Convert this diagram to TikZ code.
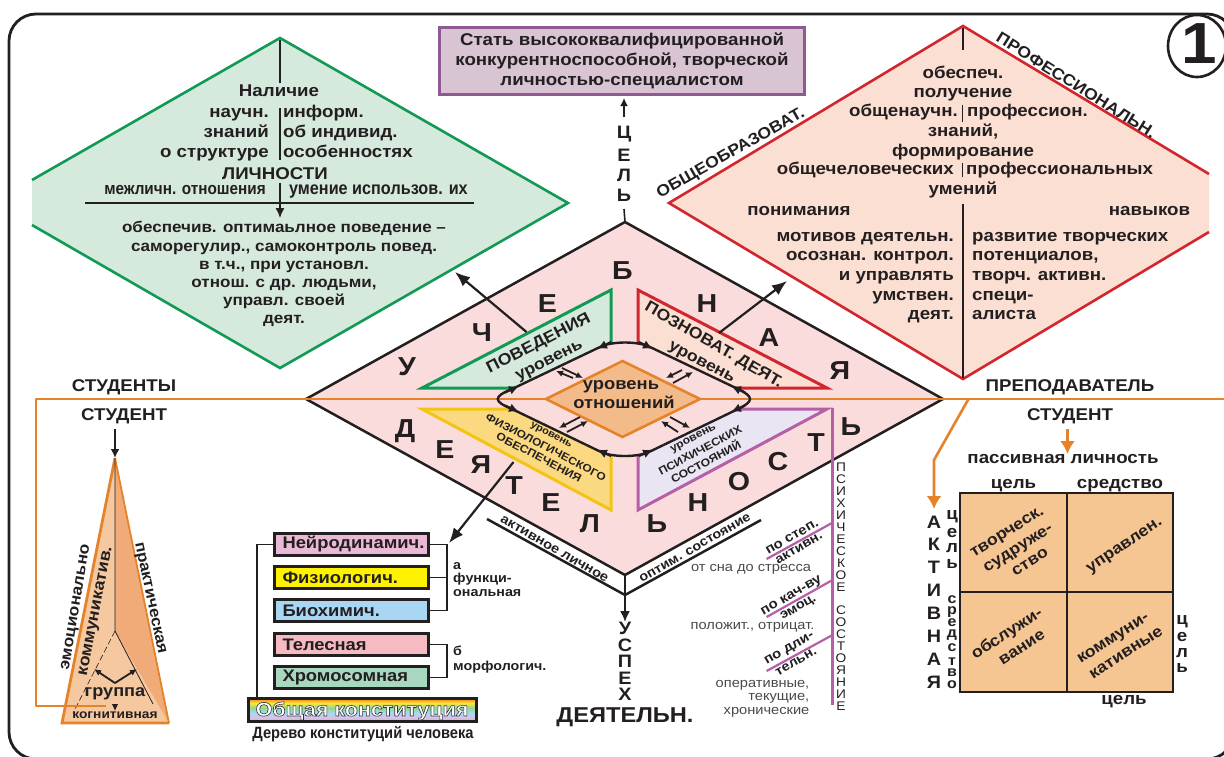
\documentclass[tikz,border=0pt]{standalone}
\usepackage{fontspec}
\setmainfont{Liberation Sans}
\newfontfamily\nrw[FakeStretch=0.90]{Liberation Sans}
\newfontfamily\wid[FakeStretch=1.10]{Liberation Sans}
\usetikzlibrary{arrows.meta,shapes.geometric}
\definecolor{ink}{HTML}{231F20}
\definecolor{gry}{HTML}{4A4A4A}
\definecolor{gfill}{HTML}{D6E9DD}
\definecolor{gline}{HTML}{119A56}
\definecolor{rfill}{HTML}{FBDFD2}
\definecolor{rline}{HTML}{D2262E}
\definecolor{pfill}{HTML}{FBDCDC}
\definecolor{bfill}{HTML}{D9C4D4}
\definecolor{bline}{HTML}{8E5A92}
\definecolor{org}{HTML}{E5832B}
\definecolor{ofill}{HTML}{F3BB8A}
\definecolor{sq}{HTML}{F5C592}
\definecolor{tdark}{HTML}{F0AB78}
\definecolor{tlite}{HTML}{F5C8A0}
\definecolor{yfill}{HTML}{FBD980}
\definecolor{yline}{HTML}{F4C414}
\definecolor{vfill}{HTML}{E9E5F2}
\definecolor{vline}{HTML}{B45FA6}
\definecolor{b1}{HTML}{EAB9D6}
\definecolor{b3}{HTML}{A9D6F2}
\definecolor{b4}{HTML}{F5BAC2}
\definecolor{b5}{HTML}{A9D8C0}
\definecolor{rb1}{HTML}{F0A0C0}
\definecolor{rb2}{HTML}{D8C0E6}
\definecolor{rb3}{HTML}{A6DAF2}
\definecolor{rb4}{HTML}{90D890}
\definecolor{rb5}{HTML}{FAE634}
\definecolor{rb6}{HTML}{F28026}
\tikzset{
 bt/.style={inner sep=0pt,text=ink,font=\fontsize{#1}{#1}\selectfont\wid\bfseries,/utils/exec={\def\curS{#1}}},
 bn/.style={inner sep=0pt,text=ink,font=\fontsize{#1}{#1}\selectfont\nrw\bfseries,/utils/exec={\def\curS{#1}}},
 rg/.style={inner sep=0pt,text=gry,font=\fontsize{#1}{#1}\selectfont\wid,/utils/exec={\def\curS{#1}}},
 mc/.style={anchor=base,yshift={-0.27*\curS*1pt}},
 mcc/.style={anchor=base,yshift={-0.36*\curS*1pt}},
 mce/.style={anchor=base east,yshift={-0.27*\curS*1pt}},
 mcw/.style={anchor=base west,yshift={-0.27*\curS*1pt}},
 big/.style={bt=26},
 edge/.style={draw=ink,line width=2.5pt},
 thin line/.style={draw=ink,line width=1.4pt},
 arw/.style={draw=ink,line width=2.2pt,-{Latex[length=15pt,width=12pt]}},
 oarw/.style={draw=org,line width=2.6pt,-{Latex[length=13pt,width=15pt]}},
 small arw/.style={draw=ink,line width=1.8pt,-{Latex[length=7pt,width=6.5pt]}},
 ctip/.style={draw=ink,line width=2.2pt,-{Latex[length=10pt,width=9pt]}},
 boxn/.style={draw=ink,line width=3pt,minimum width=154pt,minimum height=22pt,inner ysep=0pt,inner xsep=8pt,text width=138pt,align=left,text=ink,font=\fontsize{16.7}{16.7}\selectfont\wid\bfseries},
 conn/.style={draw=ink,line width=1.1pt},
}
\begin{document}
\begin{tikzpicture}[x=1pt,y=-1pt]
\useasboundingbox (0,0) rectangle (1224,756);
\clip (0,0) rectangle (1224,756);
\fill[white] (0,0) rectangle (1224,756);
% frame
\draw[draw=ink,line width=2.8pt,rounded corners=27pt] (9,759) -- (9,14) -- (1234,14) -- (1234,759) -- cycle;
% green diamond
\filldraw[fill=gfill,draw=none] (32,180) -- (280,38) -- (568,203) -- (280,368) -- (32,225) -- cycle;
\draw[draw=gline,line width=2.6pt,line join=miter] (32,180) -- (280,38) -- (568,203) -- (280,368) -- (32,225);
% red diamond
\fill[rfill] (1209,174) -- (963,26) -- (669,203) -- (963,379) -- (1209,232) -- cycle;
\draw[draw=rline,line width=2.6pt] (1209,174) -- (963,26) -- (669,203) -- (963,379) -- (1209,232);
% purple box
\node[draw=bline,fill=bfill,line width=3pt,minimum width=365pt,minimum height=67pt,inner sep=0pt] (goal) at (622,61) {};
\foreach \i/\y/\t in {1/41/{Стать высококвалифицированной},2/61/{конкурентноспособной, творческой},3/81/{личностью-специалистом}}
  \node[bt=17,mc] (g\i) at (622,\y) {\t};
% pink diamond
\coordinate (pk) at (625,222);
\coordinate (pl) at (306,399);
\coordinate (pr) at (943,399);
\coordinate (pb) at (625,575);
\filldraw[fill=pfill,edge] (pk) -- (pr) -- (pb) -- (pl) -- cycle;
% inner triangles
\filldraw[fill=gfill,draw=gline,line width=3pt] (422,388) -- (611,290) -- (611,388) -- cycle;
\filldraw[fill=rfill,draw=rline,line width=3pt] (827,388) -- (638,290) -- (638,388) -- cycle;
\filldraw[fill=yfill,draw=yline,line width=3pt] (422,409) -- (611,510) -- (611,409) -- cycle;
\filldraw[fill=vfill,draw=vline,line width=3pt] (827,409) -- (638,510) -- (638,409) -- cycle;
% rounded diamond
\def\rpath{(600,347) .. controls (612,341) and (638,341) .. (650,347) -- (738,389) .. controls (754,396.7) and (754,401.3) .. (738,409) -- (650,451.5) .. controls (638,457.5) and (612,457.5) .. (600,451.5) -- (512,409) .. controls (493,401.3) and (493,396.7) .. (512,389) -- cycle}
\fill[pfill] \rpath;
% orange line
\coordinate (ol1) at (36,399);
\coordinate (ol2) at (36,706);
\coordinate (ol3) at (106,706);
\coordinate (ol4) at (1224,399);
% pyramid
\coordinate (ta) at (115,458);
\coordinate (tl) at (62,723);
\coordinate (tr) at (169,723);
\coordinate (tm) at (115,631);
\fill[tlite] (ta) -- (tr) -- (tl) -- cycle;
\fill[tdark] (ta) -- (tr) -- (tm) -- cycle;
\draw[draw=org,line width=1.8pt] (ta) -- (tr);
\draw[draw=org,line width=2.8pt] (ta) -- (tl) -- (tr);
\draw[thin line,line width=.8pt] (ta) -- (tm) -- (153,704);
\draw[thin line,line width=.6pt,dash pattern=on 6pt off 3pt] (tm) -- (73,713);
\draw[draw=org,line width=2.6pt,line join=round] (ol3) -- (ol2) -- (ol1) -- (ol4);
\draw[draw=ink,line width=2.4pt] \rpath;
% centre diamond
\filldraw[fill=ofill,draw=org,line width=2.6pt] (546,399) -- (622.5,361) -- (700,399) -- (622.5,437) -- cycle;
\node[bt=16.7,mc] (c1) at (621,385) {уровень};
\node[bt=16.7,mc] (c2) at (624,404) {отношений};
% tips on rounded diamond
\foreach \i/\xa/\ya/\xb/\yb in {
 1/611/342/597/349, 2/505/392.5/519/386,
 3/639/342/653/349, 4/745/392.5/731/386,
 5/505/405.5/519/412, 6/611/456/597/449.5,
 7/745/405.5/731/412, 8/639/456/653/449.5} {
 \coordinate (ra\i) at (\xa,\ya); \coordinate (rb\i) at (\xb,\yb);
 \draw[ctip] (ra\i) -- (rb\i);
}
% double arrows
\foreach \i/\xa/\ya/\xb/\yb in {
 1/573/378/556/371, 2/562/368/583/378,
 3/682/370/666/378, 4/673/383/693/372,
 5/580/417/559/428, 6/567/432/588/421,
 7/678/432/661/421, 8/670/417/690/428} {
 \coordinate (da\i) at (\xa,\ya); \coordinate (db\i) at (\xb,\yb);
 \draw[small arw] (da\i) -- (db\i);
}
% big letters
\foreach \i/\x/\y/\t in {1/622.5/271/Б,2/547.5/304/Е,3/482/333/Ч,4/407/367/У,5/707/304/Н,6/769/338/А,7/840/371/Я,
 8/405/431/Д,9/445/450/Е,10/481/465/Я,11/514/486/Т,12/551/503/Е,13/590/524/Л,14/657/524/Ь,15/698/503/Н,16/739/482/О,17/778/462/С,18/816/443/Т,19/851/427/Ь}
  \node[big] (L\i) at (\x,\y) {\t};
% triangle labels
\node[bt=16.2,rotate=27,mcc] (tg1) at (538,342) {ПОВЕДЕНИЯ};
\node[bt=16,rotate=27,mc] (tg2) at (549,360) {уровень};
\node[bt=16,rotate=-30,mcc] (tr1) at (714.5,344) {ПОЗНОВАТ. ДЕЯТ.};
\node[bt=16,rotate=-28,mc] (tr2) at (702,362) {уровень};
\node[bt=10,rotate=-27.5,mc] (ty1) at (551.5,434.5) {уровень};
\node[bt=10.8,rotate=-27.5,mcc] (ty2) at (546,447) {ФИЗИОЛОГИЧЕСКОГО};
\node[bt=11,rotate=-27.5,mcc] (ty3) at (539,457) {ОБЕСПЕЧЕНИЯ};
\node[bt=11,rotate=28,mc] (tv1) at (693,438) {уровень};
\node[bt=11,rotate=28,mcc] (tv2) at (700,450) {ПСИХИЧЕСКИХ};
\node[bt=11,rotate=28,mcc] (tv3) at (706,462) {СОСТОЯНИЙ};
% big purple line
\coordinate (pv1) at (832.5,408);
\coordinate (pv2) at (832.5,705);
\draw[draw=vline,line width=2.6pt] (pv1) -- (pv2);
\foreach \i/\y/\t in {1/467/П,2/479/С,3/491/И,4/503/Х,5/515/И,6/527/Ч,7/539/Е,8/551/С,9/563/К,10/575/О,11/587/Е,
 12/610/С,13/622/О,14/634/С,15/646/Т,16/658/О,17/670/Я,18/682/Н,19/694/И,20/706/Е}
  \node[rg=12.5,text=ink] (ps\i) at (841,\y) {\t};
% side branches
\foreach \i/\a/\b in {1/559/522.7,2/617/580,3/671/635} {
 \coordinate (sa\i) at (766.6,\a); \coordinate (sb\i) at (832.5,\b);
 \draw[draw=vline,line width=2.2pt] (sa\i) -- (sb\i);
}
\node[bt=13.5,rotate=30,mc] (s1) at (792,537) {по степ.};
\node[bt=13,rotate=30,mc] (s2) at (799,548) {активн.};
\node[bt=13.5,rotate=30,mc] (s3) at (791,595) {по кач-ву};
\node[bt=13,rotate=30,mc] (s4) at (798,607) {эмоц.};
\node[bt=13.5,rotate=30,mc] (s5) at (789,648) {по дли-};
\node[bt=13,rotate=30,mc] (s6) at (796,662) {тельн.};
\node[rg=13.3,mc] (r1) at (751,568) {от сна до стресса};
\node[rg=13.3,mc] (r2) at (752.5,626) {положит., отрицат.};
\node[rg=13.3,mce] (r3) at (809.5,684) {оперативные,};
\node[rg=13.3,mce] (r4) at (809.5,697) {текущие,};
\node[rg=13.3,mce] (r5) at (809.5,711) {хронические};
% under diamond
\coordinate (vl) at (487,519);
\coordinate (vb) at (625,595);
\coordinate (vr) at (761,520);
\coordinate (vd) at (625,622);
\draw[edge,line join=miter] (vl) -- (vb) -- (vr);
\draw[arw,line width=2pt,-{Latex[length=11pt,width=10pt]}] (pb) -- (vd);
\node[bt=13.2,rotate=-30,mc] (v1) at (554.5,549) {активное личное};
\node[bt=13,rotate=30,mc] (v2) at (695,548) {оптим. состояние};
\foreach \i/\y/\t in {1/628/У,2/645/С,3/661/П,4/678/Е,5/694/Х}
  \node[bt=18] (u\i) at (625,\y) {\t};
\node[bt=21.5,mcc] (u6) at (625,715) {ДЕЯТЕЛЬН.};
% up arrow goal
\coordinate (ga) at (624,117);
\coordinate (gb) at (624,98);
\draw[arw,line width=2pt,-{Latex[length=8pt,width=8pt]}] (ga) -- (gb);
\foreach \i/\y/\t in {1/134/Ц,2/155/Е,3/175/Л,4/195/Ь}
  \node[bt=18] (w\i) at (624,\y) {\t};
\draw[thin line,line width=1.6pt] (624,209) -- (pk);
% green text
\draw[thin line] (280,40) -- (280,83);
\draw[thin line] (280,108) -- (280,160);
\coordinate (gv1) at (280,183);
\coordinate (gv2) at (280,218);
\draw[thin line,-{Latex[length=10pt,width=9pt]}] (gv1) -- (gv2);
\coordinate (gh1) at (85,203);
\coordinate (gh2) at (474,203);
\draw[edge,line width=1.8pt] (gh1) -- (gh2);
\node[bt=17,mc] (a1) at (279,92) {Наличие};
\foreach \i/\y/\l/\r in {1/113/научн./информ.,2/133/знаний/об индивид.,3/153/о структуре/особенностях} {
 \node[bt=17,mce] (al\i) at (269,\y) {\l};
 \node[bt=17,mcw] (ar\i) at (283,\y) {\r};
}
\node[bt=17,mcc] (a2) at (275,173) {ЛИЧНОСТИ};
\node[bn=17,mce] (a3) at (266,190) {межличн. отношения};
\node[bn=18,mcw] (a4) at (289,190) {умение использов. их};
\foreach \i/\y/\t in {1/228/{обеспечив. оптимаьлное поведение –},2/247/{саморегулир., самоконтроль повед.},3/265/{в т.ч., при установл.},4/283/{отнош. с др. людьми,},5/301/{управл. своей},6/319/{деят.}}
  \node[bt=15.5,mc] (ag\i) at (284,\y) {\t};
% green arrow, red arrow
\coordinate (ga1) at (526.5,332);
\coordinate (ga2) at (455,272);
\draw[arw] (ga1) -- (ga2);
\coordinate (ra1x) at (719,333);
\coordinate (ra2x) at (787,281);
\draw[arw] (ra1x) -- (ra2x);
% red diamond text
\draw[thin line,line width=1.6pt] (963,28) -- (963,50);
\draw[thin line,line width=1.6pt] (963,204) -- (963,378);
\draw[thin line] (962.5,105) -- (962.5,122);
\draw[thin line] (962.5,163) -- (962.5,177);
\foreach \i/\y/\t in {1/74/обеспеч.,2/93/получение,3/132/{знаний,},4/152/формирование,5/190/умений}
  \node[bt=17,mc] (rt\i) at (963,\y) {\t};
\node[bt=17,mce] (rl1) at (958,112) {общенаучн.};
\node[bt=17,mcw] (rr1) at (967,112) {профессион.};
\node[bt=17,mce] (rl2) at (954,170) {общечеловеческих};
\node[bt=17,mcw] (rr2) at (966,170) {профессиональных};
\node[bt=17,mc] (rp1) at (799,211) {понимания};
\node[bt=17,mc] (rp2) at (1149.5,211) {навыков};
\foreach \i/\y/\l/\r in {1/237/{мотивов деятельн.}/{развитие творческих},2/256/{осознан. контрол.}/{потенциалов,},3/276/{и управлять}/{творч. активн.},4/296/{умствен.}/{специ-},5/315/{деят.}/{алиста}} {
 \node[bt=17,mce] (ml\i) at (954,\y) {\l};
 \node[bt=17,mcw] (mr\i) at (972,\y) {\r};
}
\node[bt=16,rotate=29.5,mcc] (o1) at (730,152) {ОБЩЕОБРАЗОВАТ.};
\node[bt=16,rotate=-32,mcc] (o2) at (1076.5,85) {ПРОФЕССИОНАЛЬН.};
% circle
\node[draw=ink,line width=2.6pt,minimum width=58pt,minimum height=62pt,shape=ellipse,inner sep=0pt] (num) at (1197,46) {};
\node[bt=58] (numt) at (1199,44) {1};
% left labels
\node[bt=17,mcc] (st1) at (124,385) {СТУДЕНТЫ};
\node[bt=17,mcc] (st2) at (124,414) {СТУДЕНТ};
\draw[arw,line width=2pt,-{Latex[length=9pt,width=9pt]}] (115,429) -- (ta);
\node[bt=15.7,rotate=80.5,mc] (e1) at (75,607) {эмоционально};
\node[bt=16.2,rotate=79,mc] (e2) at (95,611) {коммуникатив.};
\node[bt=15.5,rotate=-78,mc] (e3) at (151,598) {практическая};
\coordinate (gc) at (115,683);
\coordinate (gcl) at (94,669);
\coordinate (gcr) at (137,669);
\draw[small arw] (gc) -- (gcl);
\draw[small arw] (gc) -- (gcr);
\node[bt=16.5,mc] (e4) at (115,692) {группа};
\draw[small arw,line width=1pt] (115,704) -- (115,711);
\node[bt=12.5,mc] (e5) at (115,715) {когнитивная};
% boxes
\node[boxn,fill=b1] (nb1) at (351.5,544.5) {Нейродинамич.};
\node[boxn,fill=yellow] (nb2) at (351.5,577.5) {Физиологич.};
\node[boxn,fill=b3] (nb3) at (351.5,610.5) {Биохимич.};
\node[boxn,fill=b4] (nb4) at (351.5,644.5) {Телесная};
\node[boxn,fill=b5] (nb5) at (351.5,677.5) {Хромосомная};
\foreach \ya/\yb/\ca/\cb in {698.5/703/rb6/rb5,703/708/rb5/rb4,708/713/rb4/rb3,713/717.5/rb3/rb2,717.5/721.5/rb2/rb1}
  \shade[top color=\ca,bottom color=\cb] (248.5,\ya) rectangle (476.5,\yb);
\node[draw=ink,line width=3pt,minimum width=228pt,minimum height=23pt,inner sep=0pt] (nb6) at (362.5,710) {};
\node[anchor=base,inner sep=0pt,font=\fontsize{19.5}{19.5}\selectfont\wid\bfseries] (nb6t) at (362,716) {\color{white}\special{pdf:code q 2 Tr 0.6 w 0.2 0.2 0.25 RG}Общая конституция\special{pdf:code Q}};
\node[bn=16.3,mc] (nb7) at (363,734) {Дерево конституций человека};
\draw[conn] (nb1.west) -- (257,544.5) -- (257,697);
\draw[conn] (nb1.east) -- (447,544.5) -- (447,610.5) -- (nb3.east);
\draw[conn] (nb2.east) -- (447,577.5);
\draw[conn] (nb4.east) -- (447,644.5) -- (447,677.5) -- (nb5.east);
\coordinate (bar) at (513.5,462);
\coordinate (bart) at (449,543);
\draw[arw] (bar) -- (bart);
\node[bt=13,mcw] (n1) at (453,566) {а};
\node[bt=13,mcw] (n2) at (453,579) {функци-};
\node[bt=13,mcw] (n3) at (453,593) {ональная};
\node[bt=13,mcw] (n4) at (453,652) {б};
\node[bt=13,mcw] (n5) at (453,667) {морфологич.};
% right labels
\node[bt=17,mcc] (p1) at (1070,385) {ПРЕПОДАВАТЕЛЬ};
\node[bt=17,mcc] (p2) at (1070,414) {СТУДЕНТ};
\coordinate (pa1) at (1067.5,429);
\coordinate (pa2) at (1067.5,454);
\draw[oarw] (pa1) -- (pa2);
\node[bt=17,mc] (p3) at (1063,459) {пассивная личность};
\coordinate (pa3) at (968.5,399);
\coordinate (pa4) at (934,460);
\coordinate (pa5) at (934,509);
\draw[oarw] (pa3) -- (pa4) -- (pa5);
\node[bt=17,mc] (p4) at (1013.5,484) {цель};
\node[bt=17,mc] (p5) at (1120,484) {средство};
\node[bt=17,mc] (p6) at (1124,700) {цель};
\filldraw[fill=sq,draw=ink,line width=2.8pt] (960,493) rectangle (1173,692);
\draw[draw=ink,line width=2.8pt] (1067,493) -- (1067,692);
\draw[draw=ink,line width=2.8pt] (960,592) -- (1173,592);
\node[bt=16,rotate=32,mc] (q1) at (1007,532) {творческ.};
\node[bt=16,rotate=32,mc] (q2) at (1018,548) {судруже-};
\node[bt=16,rotate=32,mc] (q3) at (1030,562) {ство};
\node[bt=16,rotate=34,mc] (q4) at (1124,545) {управлен.};
\node[bt=16,rotate=33,mc] (q5) at (1007,634) {обслужи-};
\node[bt=16,rotate=33,mc] (q6) at (1022,648) {вание};
\node[bt=16,rotate=33,mc] (q7) at (1113,638) {коммуни-};
\node[bt=16,rotate=33,mc] (q8) at (1126,653) {кативные};
\foreach \i/\y/\t in {1/522/А,2/544/К,3/567/Т,4/590/И,5/613/В,6/636/Н,7/659/А,8/682/Я}
  \node[bt=18] (ak\i) at (934,\y) {\t};
\foreach \i/\y/\t in {1/517/ц,2/533/е,3/548/л,4/564/ь}
  \node[bt=17] (ct\i) at (952,\y) {\t};
\foreach \i/\y/\t in {1/600/с,2/612/р,3/623/е,4/635/д,5/648/с,6/662/т,7/673/в,8/685/о}
  \node[bt=14.5] (cs\i) at (952,\y) {\t};
\foreach \i/\y/\t in {1/622/ц,2/637/е,3/653/л,4/668/ь}
  \node[bt=17] (cr\i) at (1182,\y) {\t};
\end{tikzpicture}
\end{document}
